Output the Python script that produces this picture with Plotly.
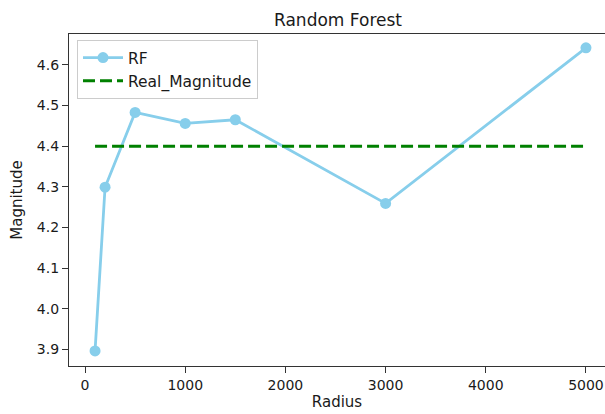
import plotly.graph_objects as go

radius = [100, 200, 500, 1000, 1500, 3000, 5000]
rf_magnitude = [3.896, 4.299, 4.483, 4.456, 4.465, 4.259, 4.642]
real_x = [100, 5000]
real_magnitude = [4.4, 4.4]

x_ticks = [0, 1000, 2000, 3000, 4000, 5000]
y_ticks = [3.9, 4.0, 4.1, 4.2, 4.3, 4.4, 4.5, 4.6]

W, H = 605, 414
L, R, T, B = 69, 0, 34, 48
PW, PH = W - L - R, H - T - B

fig = go.Figure()
fig.add_trace(go.Scatter(
    x=radius, y=rf_magnitude, mode="lines+markers", name="RF",
    line=dict(color="#87CEEB", width=2.8),
    marker=dict(color="#87CEEB", size=11, symbol="circle"),
))
fig.add_trace(go.Scatter(
    x=real_x, y=real_magnitude, mode="lines", name="Real_Magnitude",
    line=dict(color="#008000", width=3, dash="12px,5px"),
))

font_family = "DejaVu Sans"
fig.update_layout(
    width=W, height=H,
    margin=dict(l=L, r=R, t=T, b=B),
    paper_bgcolor="white", plot_bgcolor="white",
    font=dict(family=font_family, color="#1a1a1a", size=14),
    title=dict(text="Random Forest", x=(338 - L) / PW, xref="paper",
               xanchor="center", y=1 - 20 / H, yref="container", yanchor="middle",
               font=dict(size=17, color="#1a1a1a")),
    showlegend=True,
    legend=dict(x=(77 - L) / PW, y=1 - 6 / PH, xanchor="left", yanchor="top",
                bgcolor="rgba(255,255,255,0.8)", bordercolor="#cccccc", borderwidth=1,
                font=dict(size=15.5, color="#1a1a1a"), tracegroupgap=0,
                itemwidth=40),
    xaxis=dict(range=[-160, 5190], tickvals=x_ticks, ticktext=[str(v) for v in x_ticks],
               showgrid=False, zeroline=False, showline=True, linecolor="#333333",
               linewidth=1.3, mirror=True, ticks="outside", ticklen=6, tickwidth=1.2,
               tickcolor="#333333", tickfont=dict(size=14),
               title=dict(text="Radius", font=dict(size=15), standoff=4)),
    yaxis=dict(range=[3.859, 4.676], tickvals=y_ticks, ticktext=[f"{v:.1f}" for v in y_ticks],
               showgrid=False, zeroline=False, showline=True, linecolor="#333333",
               linewidth=1.3, mirror=False, ticks="outside", ticklen=6, tickwidth=1.2,
               tickcolor="#333333", tickfont=dict(size=14),
               title=dict(text="Magnitude", font=dict(size=15), standoff=10)),
)

fig.write_html("out.html")
